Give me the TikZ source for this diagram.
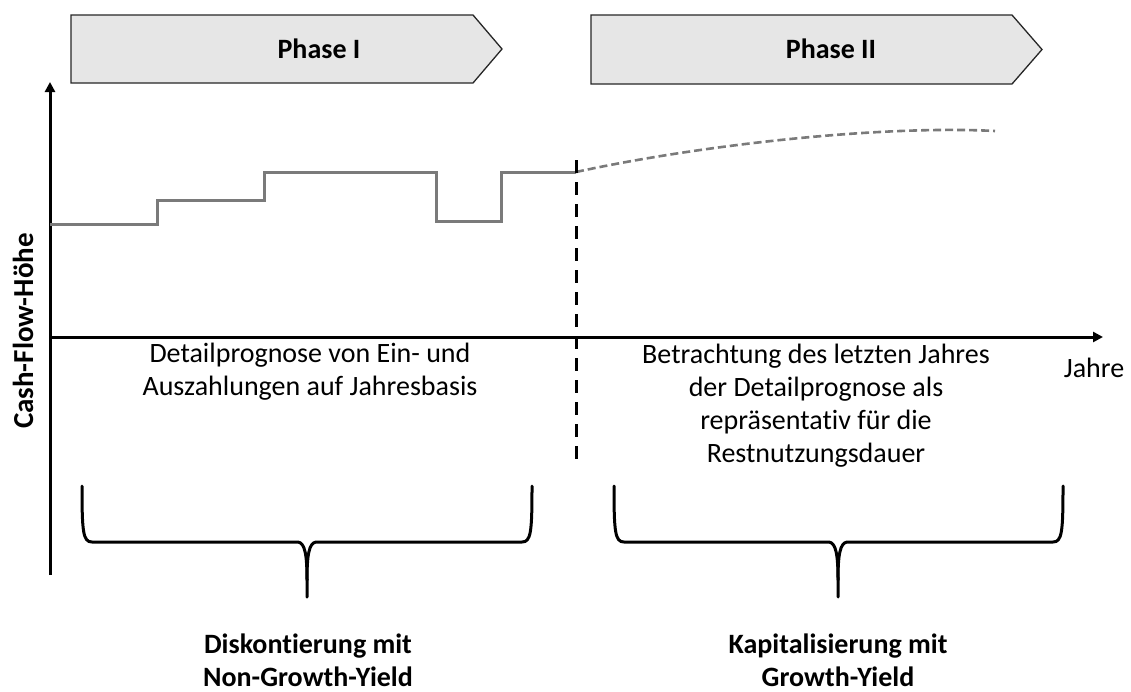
\documentclass[tikz,border=0pt]{standalone}
\usepackage{fontspec}
\setmainfont{Carlito}[Ligatures=NoCommon]
\usetikzlibrary{arrows.meta}
\definecolor{chevgray}{RGB}{230,230,230}
\definecolor{cfgray}{RGB}{122,122,122}
\begin{document}
\begin{tikzpicture}[x=1pt,y=-1pt,
  txt/.style={font=\fontsize{28}{33}\selectfont, align=center, inner sep=0pt},
  btxt/.style={font=\fontsize{28}{33}\selectfont\bfseries, align=center, inner sep=0pt},
  chev/.style={draw=black!85, line width=1.3pt, fill=chevgray, line join=miter},
  axisline/.style={line width=3pt, -{Triangle[length=10pt,width=10pt]}},
  cfline/.style={draw=cfgray, line width=3pt, line join=miter},
  cfdash/.style={draw=cfgray, line width=2.6pt, dash pattern=on 8pt off 4pt},
  splitline/.style={line width=3pt, dash pattern=on 13pt off 9pt},
  bracepath/.style={line width=3pt, line join=round, line cap=round}]
\useasboundingbox (0,0) rectangle (1131,691);
% chevrons
\draw[chev] (71,15) -- (473,15) -- (502,49) -- (473,83) -- (71,83) -- cycle;
\draw[chev] (591,15) -- (1012,15) -- (1042,49.5) -- (1012,84) -- (591,84) -- cycle;
\node[btxt] (p1) at (319,49) {Phase I};
\node[btxt] (p2) at (831,49) {Phase II};
% axes
\coordinate (O) at (50,337);
\coordinate (ytop) at (50,82);
\coordinate (ybot) at (50,575);
\coordinate (xend) at (1103,337);
\draw[axisline] (ybot) -- (ytop);
\draw[axisline] (O) -- (xend);
\node[txt] (xlab) at (1094,368) {Jahre};
\node[font=\fontsize{29}{33}\selectfont\bfseries, inner sep=0pt, rotate=90] (ylab) at (23,331) {Cash-Flow-Höhe};
% cash flow steps
\coordinate (c0) at (50,224);
\coordinate (cend) at (576,172);
\draw[cfline] (c0) -- (157,224) -- (157,200) -- (264,200) -- (264,172) -- (436,172) -- (436,221) -- (501,221) -- (501,172) -- (cend);
\coordinate (fend) at (995,131);
\draw[cfdash] (cend) .. controls (700,145) and (880,125) .. (fend);
% split line
\coordinate (s1) at (576,160);
\coordinate (s2) at (576,465);
\draw[splitline] (s1) -- (s2);
% texts
\node[txt] (t1) at (310,372) {Detailprognose von Ein- und\\Auszahlungen auf Jahresbasis};
\node[txt] (t2) at (816,406) {Betrachtung des letzten Jahres\\der Detailprognose als\\repräsentativ für die\\Restnutzungsdauer};
% braces
\draw[bracepath] (82,486) .. controls (82,532) and (83,542) .. (92,542) -- (298,542)
  .. controls (305,543) and (307,555) .. (307,580) -- (307,597);
\draw[bracepath] (532,486) .. controls (532,532) and (531,542) .. (522,542) -- (316,542)
  .. controls (309,543) and (307,555) .. (307,580);
\draw[bracepath] (614,486) .. controls (614,532) and (615,542) .. (624,542) -- (829,542)
  .. controls (836,543) and (838,555) .. (838,580) -- (838,597);
\draw[bracepath] (1063,486) .. controls (1063,532) and (1062,542) .. (1053,542) -- (847,542)
  .. controls (840,543) and (838,555) .. (838,580);
\node[btxt] (b1) at (308,660) {Diskontierung mit\\Non-Growth-Yield};
\node[btxt] (b2) at (838,660) {Kapitalisierung mit\\Growth-Yield};
\end{tikzpicture}
\end{document}
